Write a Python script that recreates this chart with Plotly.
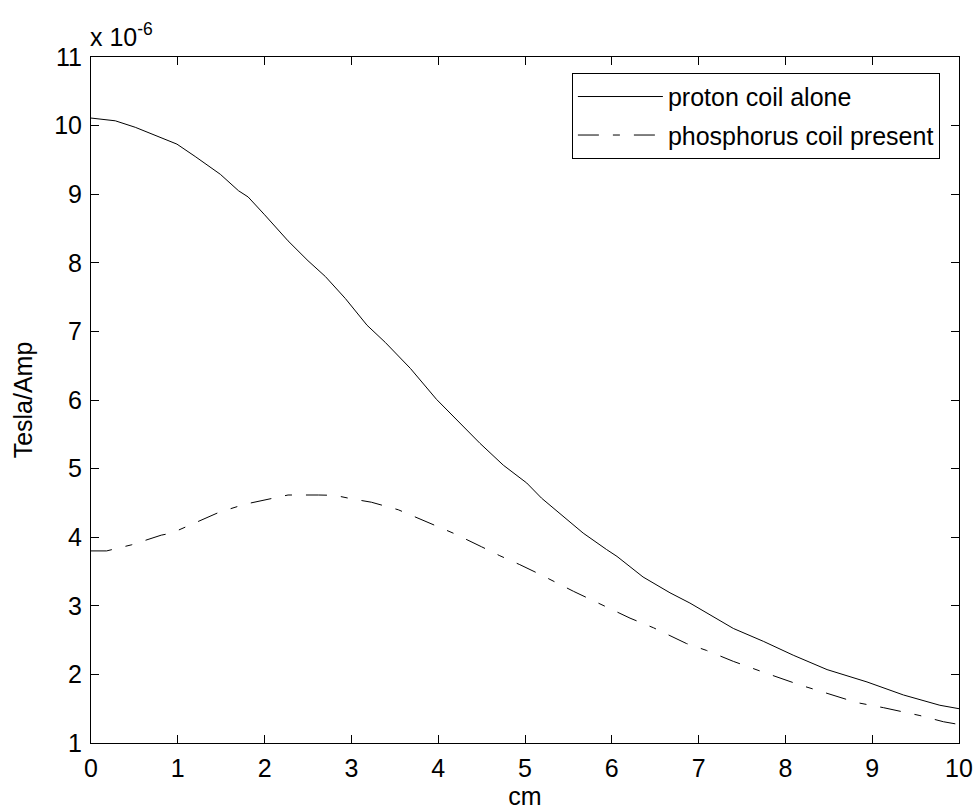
import plotly.graph_objects as go

# distance (cm)
x_proton = [0.0, 0.28, 0.51, 0.81, 0.99, 1.2, 1.49, 1.7, 1.81, 2.0, 2.27, 2.5, 2.7, 2.93,
            3.18, 3.39, 3.68, 3.98, 4.29, 4.48, 4.75, 5.02, 5.19, 5.4, 5.67, 5.94,
            6.06, 6.36, 6.67, 6.9, 7.4, 7.75, 8.09, 8.48, 8.94, 9.36, 9.78, 10.0]
# field (x 1e-6 Tesla/Amp)
y_proton = [10.11, 10.07, 9.975, 9.815, 9.73, 9.55, 9.29, 9.05, 8.96, 8.7, 8.32, 8.03, 7.8, 7.48,
            7.09, 6.84, 6.46, 6.01, 5.62, 5.37, 5.05, 4.79, 4.57, 4.35, 4.06, 3.82,
            3.72, 3.42, 3.19, 3.04, 2.67, 2.48, 2.28, 2.07, 1.89, 1.70, 1.55, 1.50]

x_phos = [0.0, 0.18, 0.47, 0.81, 0.93, 1.16, 1.47, 1.77, 2.12, 2.27, 2.62, 2.81, 3.0, 3.23,
          3.54, 3.89, 4.19, 4.5, 4.71, 4.94, 5.17, 5.56, 5.83, 6.21, 6.48, 6.86, 7.09,
          7.4, 7.75, 8.17, 8.44, 8.82, 9.13, 9.55, 9.82, 10.0]
y_phos = [3.80, 3.80, 3.89, 4.03, 4.06, 4.19, 4.36, 4.48, 4.58, 4.615, 4.615, 4.61, 4.56, 4.51,
          4.40, 4.21, 4.05, 3.86, 3.73, 3.60, 3.46, 3.21, 3.05, 2.82, 2.68, 2.45, 2.35,
          2.19, 2.03, 1.845, 1.74, 1.59, 1.515, 1.40, 1.31, 1.27]

series_names = ["proton coil alone", "phosphorus coil present"]
x_ticks = list(range(0, 11))
y_ticks = list(range(1, 12))

FONT = "Liberation Sans, Arial, sans-serif"
FS = 25

fig = go.Figure()
fig.add_trace(go.Scatter(x=x_proton, y=y_proton, mode="lines", name=series_names[0],
                         legendgroup="a",
                         line=dict(color="black", width=1)))
fig.add_trace(go.Scatter(x=x_phos, y=y_phos, mode="lines", name=series_names[1],
                         legendgroup="b",
                         line=dict(color="black", width=1, dash="21px,14px,7px,14px")))

axis_common = dict(showgrid=False, zeroline=False, showline=True, linecolor="black",
                   linewidth=1, mirror="ticks", ticks="inside", ticklen=8,
                   tickcolor="black", tickwidth=1, automargin=False,
                   tickfont=dict(family=FONT, size=FS, color="black"))

fig.update_xaxes(range=[0, 10], tickvals=x_ticks, ticklabelstandoff=3,
                 title=dict(text="cm", font=dict(family=FONT, size=FS, color="black"), standoff=2),
                 **axis_common)
fig.update_yaxes(range=[1, 11], tickvals=y_ticks, ticklabelstandoff=3,
                 title=dict(text="Tesla/Amp", font=dict(family=FONT, size=FS, color="black"), standoff=14),
                 **axis_common)

fig.add_annotation(xref="paper", yref="paper", x=0.0, y=1.0, xanchor="left", yanchor="bottom",
                   xshift=-3, yshift=4, text="x 10<sup>-6</sup>", showarrow=False,
                   font=dict(family=FONT, size=FS, color="black"))

fig.update_layout(
    width=978, height=810,
    margin=dict(l=91, r=19, t=57, b=67),
    paper_bgcolor="white", plot_bgcolor="white",
    font=dict(family=FONT, size=FS, color="black"),
    legend=dict(x=0.978, y=0.977, xanchor="right", yanchor="top",
                bgcolor="white", bordercolor="black", borderwidth=1,
                itemwidth=85, tracegroupgap=3,
                font=dict(family=FONT, size=FS, color="black")),
)

fig.write_html("out.html")
